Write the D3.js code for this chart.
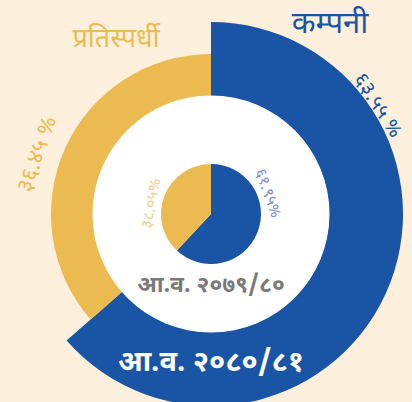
<!DOCTYPE html>
<html><head><meta charset="utf-8">
<script src="https://cdn.jsdelivr.net/npm/d3@7"></script>
<style>html,body{margin:0;padding:0;background:#fcf0dc;}svg{display:block;}</style>
</head><body>
<script>
const categories = ["कम्पनी", "प्रतिस्पर्धी"];
const outerValues = [63.55, 36.45];   // आ.व. २०८०/८१
const innerValues = [61.95, 38.05];   // आ.व. २०७९/८०
const periods = ["आ.व. २०८०/८१", "आ.व. २०७९/८०"];
const colors = ["#1a55a5", "#ebbb52"];
const innerLabelColors = ["#7d8fc8", "#f1d08c"];

const W = 412, H = 402, cx = 211, cy = 214;
const devDigits = "०१२३४५६७८९";
const toDev = s => String(s).replace(/[0-9]/g, d => devDigits[+d]);
const fmt = v => toDev(v.toFixed(2));

const svg = d3.select("body").append("svg").attr("width", W).attr("height", H);
svg.append("rect").attr("width", W).attr("height", H).attr("fill", "#fcf0dc");
const g = svg.append("g").attr("transform", `translate(${cx},${cy})`);
const font = "'Noto Sans Devanagari','Noto Sans','Lohit Devanagari',sans-serif";

const pie = d3.pie().sort(null).value(d => d);
const outerArcs = pie(outerValues);
const innerArcs = pie(innerValues);

const rOuter = [192, 160], rIn = 118;
g.selectAll("path.outer").data(outerArcs).join("path")
  .attr("class", "outer")
  .attr("d", (d, i) => d3.arc().innerRadius(rIn).outerRadius(rOuter[i])(d))
  .attr("fill", (d, i) => colors[i]);

g.append("circle").attr("r", rIn + 0.5).attr("fill", "#ffffff");

g.selectAll("path.inner").data(innerArcs).join("path")
  .attr("class", "inner")
  .attr("d", d3.arc().innerRadius(0).outerRadius(50))
  .attr("fill", (d, i) => colors[i]);

function arcLabel(text, angleDeg, r, size, color) {
  const a = angleDeg * Math.PI / 180;
  g.append("text")
    .attr("transform", `translate(${r * Math.sin(a)},${-r * Math.cos(a)}) rotate(${angleDeg})`)
    .attr("text-anchor", "middle")
    .attr("font-family", font).attr("font-size", size)
    .attr("fill", color).text(text);
}
arcLabel(fmt(outerValues[0]) + " %", 57, 193, 21, colors[0]);
arcLabel(fmt(outerValues[1]) + " %", 289, 177, 23, colors[1]);
arcLabel(fmt(innerValues[0]) + "%", 70, 56, 16, innerLabelColors[0]);
arcLabel(fmt(innerValues[1]) + "%", 280, 56, 16, innerLabelColors[1]);

svg.append("text").attr("x", 330).attr("y", 33).attr("text-anchor", "middle")
  .attr("font-family", font).attr("font-size", 31).attr("fill", colors[0]).text(categories[0]);
svg.append("text").attr("x", 116).attr("y", 47).attr("text-anchor", "middle")
  .attr("font-family", font).attr("font-size", 27).attr("fill", colors[1]).text(categories[1]);

g.append("text").attr("x", 0).attr("y", 78).attr("text-anchor", "middle")
  .attr("font-family", font).attr("font-size", 23).attr("font-weight", "bold")
  .attr("fill", "#7a7a7a").text(periods[1]);
g.append("text").attr("x", 0).attr("y", 157).attr("text-anchor", "middle")
  .attr("font-family", font).attr("font-size", 29).attr("font-weight", "bold")
  .attr("fill", "#ffffff").text(periods[0]);
</script>
</body></html>
